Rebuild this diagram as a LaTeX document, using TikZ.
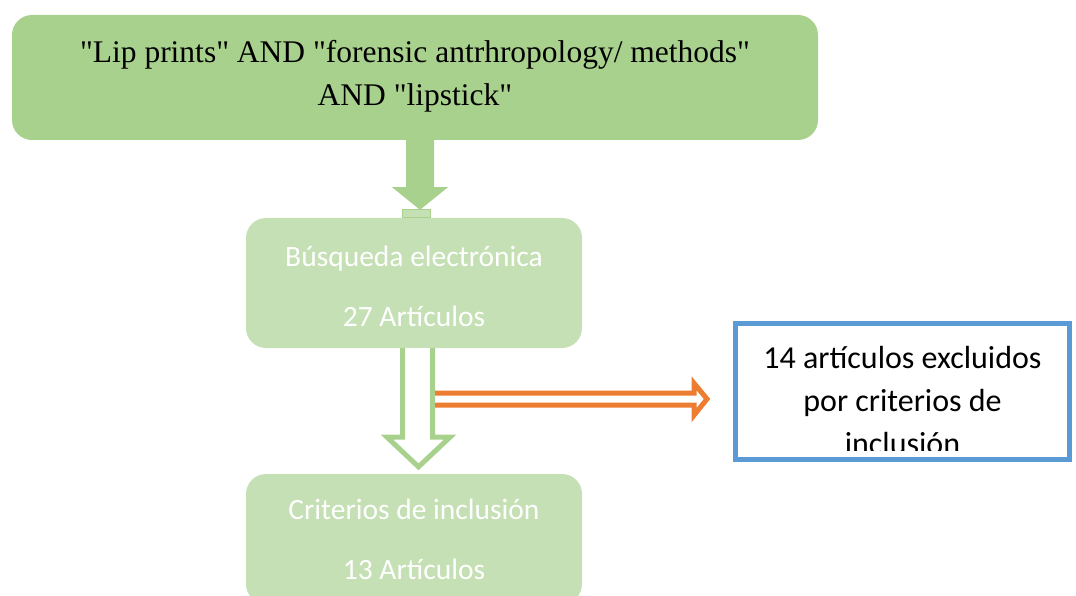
\documentclass[tikz,border=0pt]{standalone}
\usepackage{fontspec}
\setmainfont{Liberation Serif}
\newfontfamily\calibri{Carlito}
\usetikzlibrary{calc}
\definecolor{arrowgreen}{HTML}{A9D18E}
\definecolor{boxgreen}{HTML}{C5E0B4}
\definecolor{boxblue}{HTML}{5B9BD5}
\definecolor{arroworange}{HTML}{ED7D31}
\newcommand{\qt}{\textquotedbl}

\begin{document}
\begin{tikzpicture}[x=1pt,y=-1pt]
  \tikzset{query/.style={fill=arrowgreen,rounded corners=20pt,minimum width=806pt,minimum height=125pt},
    stage/.style={fill=boxgreen,rounded corners=20pt,minimum width=336pt,minimum height=130pt},
    stage text/.style={align=center,text=white,font=\calibri\fontsize{29.5}{60}\selectfont},
    excluded/.style={draw=boxblue,line width=5pt,fill=white,minimum width=334pt,minimum height=136pt},
    hollow arrow/.style={line width=5pt,fill=white,miter limit=20}}
  \useasboundingbox (0,0) rectangle (1076,596);
  \node[query] (query) at (415,77.5) {};
  \node[align=center,font=\fontsize{31.5}{43}\selectfont] (querytext) at ($(query.center)+(0,-1.5)$) {\qt Lip prints\qt{} AND \qt forensic antrhropology/ methods\qt\\AND \qt lipstick\qt};
  \node[stage] (search) at (414,283) {};
  \node[stage text] (searchtext) at ($(search.center)+(0,3)$) {Búsqueda electrónica\\27 Artículos};
  \node[stage] (criteria) at (414,539) {};
  \node[stage text] (criteriatext) at ($(criteria.center)+(0,0)$) {Criterios de inclusión\\13 Artículos};
  \node[excluded] (excl) at (902.5,391.5) {};
  \begin{scope}
    \clip (736,324) rectangle (1069,450);
    \node[align=center,font=\calibri\fontsize{32}{43}\selectfont] (excltext) at ($(excl.center)+(0,9.5)$) {14 artículos excluidos\\por criterios de\\inclusión};
  \end{scope}
  \fill[arrowgreen] ($(query.south)+(-9,0)$) -- ++(0,47) -- ++(-14,0) -- ($(search.north)+(6,-8)$)
    -- ($(query.south)+(33,47)$) -- ++(-14,0) -- ++(0,-47) -- cycle;
  \draw[fill=boxgreen,draw=arrowgreen,line width=1pt] ($(search.north)+(-12,-8)$) rectangle ($(search.north)+(16,0)$);
  \draw[hollow arrow,draw=arrowgreen] ($(search.south)+(-11.5,0)$) -- ++(0,89) -- ++(-15.5,0)
    -- ($(criteria.north)+(4.5,-7)$) -- ($(search.south)+(36,89)$) -- ++(-17.5,0) -- ++(0,-89);
  \draw[hollow arrow,draw=arroworange] ($(search.south)+(21,45)$) -- ++(259,0) -- ++(0,-10)
    -- ($(excl.west)+(-26,7.5)$) -- ($(search.south)+(280,67)$) -- ++(0,-10) -- ++(-259,0);
\end{tikzpicture}
\end{document}
